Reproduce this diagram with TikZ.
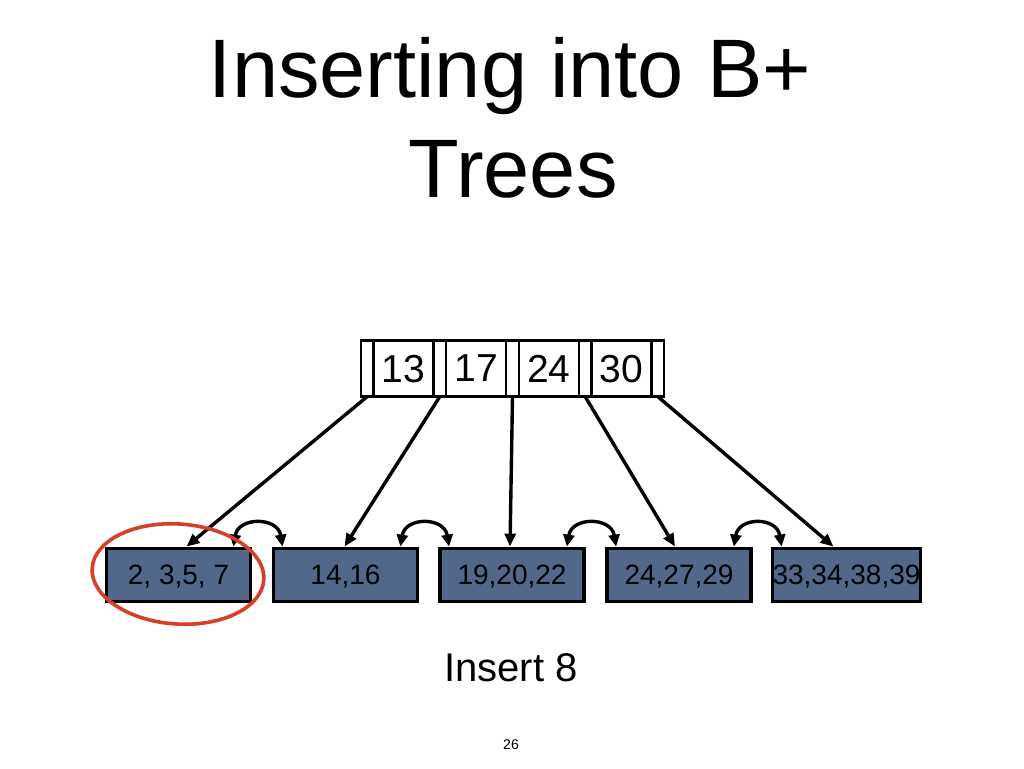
\documentclass[tikz,border=0pt]{standalone}
\usepackage{fontspec}
\setmainfont{Liberation Sans}
\usetikzlibrary{arrows.meta}
\definecolor{leafblue}{RGB}{82,104,138}
\definecolor{circred}{RGB}{214,64,40}
\begin{document}
\begin{tikzpicture}[x=1pt,y=-1pt,
  ptrslot/.style={draw,line width=2.4pt,minimum width=12.6pt,minimum height=56pt,inner sep=0pt,outer sep=0pt},
  keyslot/.style={draw,line width=2.4pt,minimum width=60pt,minimum height=56pt,inner sep=0pt,outer sep=0pt,
    font=\fontsize{39}{39}\selectfont,text depth=0pt},
  leafbox/.style={draw,line width=3.8pt,fill=leafblue,minimum width=144pt,minimum height=53pt,inner sep=0pt,
    font=\fontsize{28}{28}\selectfont,text depth=0pt},
  treearrow/.style={line width=3.4pt,-{Triangle[length=13pt,width=11pt]}},
  sibarrow/.style={line width=3.4pt,{Triangle[length=12pt,width=11pt]}-{Triangle[length=12pt,width=11pt]}},
  ring/.style={draw=circred,line width=3.6pt}
]
\useasboundingbox (0,0) rectangle (1024,768);
% title
\node[anchor=base,font=\fontsize{83}{83}\selectfont,inner sep=0pt] (t1) at (510,97) {Inserting into B+};
\node[anchor=base,font=\fontsize{83}{83}\selectfont,inner sep=0pt] (t2) at (513,197) {Trees};
% root node
\node[ptrslot] (p0) at (367.3,368.5) {};
\node[keyslot] (k1) at (403.6,368.5) {13};
\node[ptrslot] (p1) at (439.9,368.5) {};
\node[keyslot] (k2) at (476.2,368.5) {17};
\node[ptrslot] (p2) at (512.5,368.5) {};
\node[keyslot] (k3) at (548.8,368.5) {24};
\node[ptrslot] (p3) at (585.1,368.5) {};
\node[keyslot] (k4) at (621.4,368.5) {30};
\node[ptrslot] (p4) at (657.7,368.5) {};
% leaves
\node[leafbox] (l1) at (178.5,575) {2, 3,5, 7};
\node[leafbox] (l2) at (345.5,575) {14,16};
\node[leafbox] (l3) at (512,575) {19,20,22};
\node[leafbox] (l4) at (679,575) {24,27,29};
\node[leafbox] (l5) at (846.5,575) {33,34,38,39};
% tree arrows
\draw[treearrow] (p0.south) -- ([xshift=8pt]l1.north);
\draw[treearrow] (p1.south) -- ([xshift=-1pt]l2.north);
\draw[treearrow] (p2.south) -- ([xshift=-2pt]l3.north);
\draw[treearrow] (p3.south) -- ([xshift=-4pt]l4.north);
\draw[treearrow] (p4.south) -- ([xshift=-13pt]l5.north);
% sibling arrows
\draw[sibarrow] ([xshift=-19pt]l1.north east) .. controls +(5,-30) and +(-5,-30) .. ([xshift=11pt]l2.north west);
\draw[sibarrow] ([xshift=-19pt]l2.north east) .. controls +(5,-30) and +(-5,-30) .. ([xshift=11pt]l3.north west);
\draw[sibarrow] ([xshift=-19pt]l3.north east) .. controls +(5,-30) and +(-5,-30) .. ([xshift=11pt]l4.north west);
\draw[sibarrow] ([xshift=-19pt]l4.north east) .. controls +(5,-30) and +(-5,-30) .. ([xshift=11pt]l5.north west);
% red ring
\draw[ring] (178,574) ellipse [x radius=86pt,y radius=50pt,rotate=-4];
% labels
\node[anchor=base,font=\fontsize{40}{40}\selectfont,inner sep=0pt] (ins) at (511,681) {Insert 8};
\node[font=\fontsize{14}{14}\selectfont,inner sep=0pt] (pg) at (511,745) {26};
\end{tikzpicture}
\end{document}
